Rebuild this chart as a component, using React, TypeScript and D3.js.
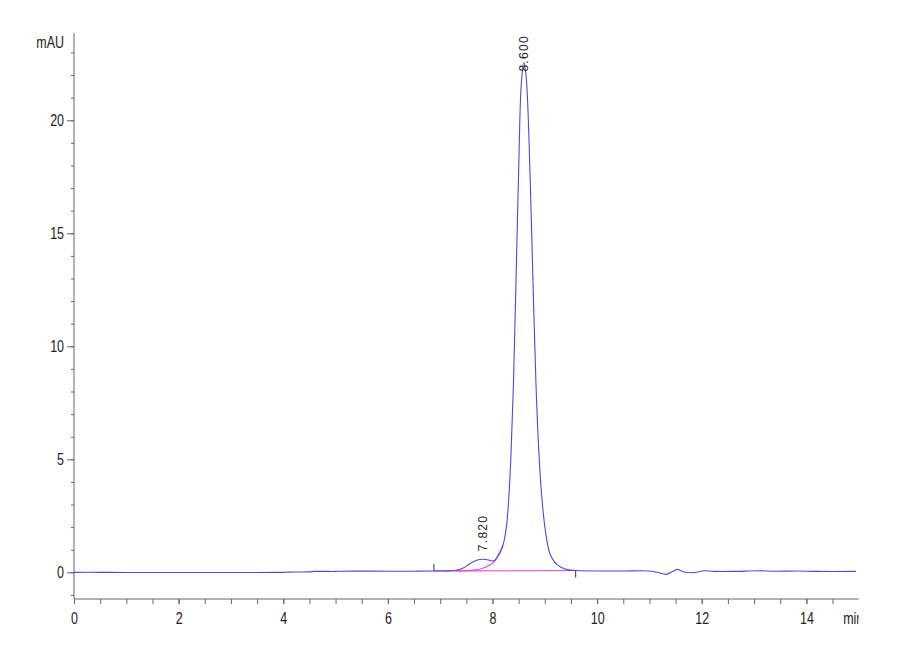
import { useEffect, useRef } from "react";
import * as d3 from "d3";

// Detector trace: [time (min), signal (mAU)]
const traceTime = [
  0, 0.5, 1, 2, 3, 4, 4.1, 4.5, 4.6, 5, 5.1, 6, 6.5, 6.9, 7.1, 7.3, 7.45, 7.55,
  7.7, 7.8, 7.9, 8.0, 8.05, 8.1, 8.15, 8.2, 8.26, 8.3, 8.35, 8.4, 8.45, 8.5,
  8.55, 8.6, 8.64, 8.67, 8.73, 8.78, 8.83, 8.88, 8.94, 9.01, 9.1, 9.2, 9.3,
  9.45, 9.6, 10, 10.5, 11, 11.15, 11.32, 11.45, 11.54, 11.62, 11.7, 11.86,
  12.05, 12.24, 12.6, 13.07, 13.4, 13.83, 14.2, 14.95,
];
const traceSignal = [
  0, 0, -0.01, -0.01, -0.01, 0, 0.01, 0.02, 0.04, 0.04, 0.05, 0.05, 0.05, 0.06,
  0.06, 0.09, 0.2, 0.36, 0.53, 0.58, 0.56, 0.5, 0.55, 0.72, 0.93, 1.2, 1.9,
  2.9, 5.0, 8.3, 13.0, 17.8, 21.6, 22.55, 22.0, 20.9, 16.6, 12.3, 8.4, 5.6,
  3.4, 1.85, 0.8, 0.42, 0.24, 0.11, 0.08, 0.06, 0.06, 0.06, 0.0, -0.09, 0.05,
  0.13, 0.05, 0.0, -0.01, 0.07, 0.04, 0.04, 0.07, 0.05, 0.06, 0.04, 0.04,
];

// Integration: skim of the main peak under the shoulder, and the baseline
const skimTime = [7.3, 7.6, 7.8, 8.0, 8.07, 8.14, 8.2];
const skimSignal = [0.06, 0.09, 0.17, 0.4, 0.58, 0.84, 1.2];
const baseTime = [6.88, 9.59];
const baseSignal = [0.06, 0.08];

// Peak labels
const peakTime = [7.82, 8.6];
const peakHeight = [0.58, 22.55];
const peakLabel = ["7.820", "8.600"];
const peakOffset = [-8, 9];

const xMajor = [0, 2, 4, 6, 8, 10, 12, 14];
const yMajor = [0, 5, 10, 15, 20];

const W = 900;
const H = 660;
const tickFont = "'Liberation Sans', Arial, sans-serif";
const squeeze = 0.78; // the original labels use a narrow face

export default function App() {
  const ref = useRef<SVGSVGElement | null>(null);

  useEffect(() => {
    const svg = d3.select(ref.current);
    svg.selectAll("*").remove();

    const x = d3.scaleLinear().domain([0, 15]).range([74, 858.7]);
    const y = d3.scaleLinear().domain([-1.18, 23.86]).range([599, 33]);
    const axisColor = "#666";

    // minor ticks first
    svg
      .append("g")
      .attr("transform", `translate(0,${y(-1.18)})`)
      .call(
        d3
          .axisBottom(x)
          .tickValues(d3.range(0, 14.6, 0.5))
          .tickSize(5)
          .tickFormat(() => "")
      )
      .call((g) => g.select(".domain").remove())
      .call((g) => g.selectAll("line").attr("stroke", axisColor));

    svg
      .append("g")
      .attr("transform", `translate(${x(0)},0)`)
      .call(
        d3
          .axisLeft(y)
          .tickValues(d3.range(-1, 24, 1))
          .tickSize(3)
          .tickFormat(() => "")
      )
      .call((g) => g.select(".domain").remove())
      .call((g) => g.selectAll("line").attr("stroke", axisColor));

    // major axes
    const xAxis = svg
      .append("g")
      .attr("transform", `translate(0,${y(-1.18)})`)
      .call(
        d3
          .axisBottom(x)
          .tickValues(xMajor)
          .tickSize(5)
          .tickPadding(9)
          .tickFormat(d3.format("d"))
      );
    xAxis.select(".domain").attr("stroke", axisColor).attr("d", `M${x(0)},0H${x(15)}`);
    xAxis.selectAll("line").attr("stroke", axisColor);
    xAxis
      .selectAll("text")
      .attr("font-family", tickFont)
      .attr("font-size", 16)
      .attr("fill", "#222")
      .attr("transform", `scale(${squeeze},1)`);

    const yAxis = svg
      .append("g")
      .attr("transform", `translate(${x(0)},0)`)
      .call(
        d3
          .axisLeft(y)
          .tickValues(yMajor)
          .tickSize(7)
          .tickPadding(3)
          .tickFormat(d3.format("d"))
      );
    yAxis.select(".domain").attr("stroke", axisColor).attr("d", `M0,${y(23.86)}V${y(-1.18)}`);
    yAxis.selectAll("line").attr("stroke", axisColor);
    yAxis
      .selectAll("text")
      .attr("font-family", tickFont)
      .attr("font-size", 16)
      .attr("fill", "#222")
      .attr("x", -10 / squeeze)
      .attr("transform", `scale(${squeeze},1)`);

    // axis titles
    svg
      .append("text")
      .attr("transform", `translate(${x(0) - 10},48) scale(${squeeze},1)`)
      .attr("text-anchor", "end")
      .attr("font-family", tickFont)
      .attr("font-size", 16)
      .attr("fill", "#222")
      .text("mAU");

    svg
      .append("clipPath")
      .attr("id", "unit-clip")
      .append("rect")
      .attr("x", 0)
      .attr("y", 0)
      .attr("width", x(15))
      .attr("height", H);
    svg
      .append("g")
      .attr("clip-path", "url(#unit-clip)")
      .append("text")
      .attr("transform", `translate(${x(15) - 15.5},${y(-1.18) + 25}) scale(${squeeze},1)`)
      .attr("font-family", tickFont)
      .attr("font-size", 16)
      .attr("fill", "#222")
      .text("min");

    // integration baseline and skim
    const line = d3.line<number>().curve(d3.curveCatmullRom.alpha(0.5));

    svg
      .append("path")
      .attr("d", line.x((_, i) => x(baseTime[i])).y((d) => y(d))(baseSignal))
      .attr("fill", "none")
      .attr("stroke", "#ee44dd")
      .attr("stroke-width", 1.2);

    svg
      .append("path")
      .attr("d", line.x((_, i) => x(skimTime[i])).y((d) => y(d))(skimSignal))
      .attr("fill", "none")
      .attr("stroke", "#ee44dd")
      .attr("stroke-width", 1.2);

    // baseline start / end markers
    svg
      .append("line")
      .attr("x1", x(baseTime[0]))
      .attr("x2", x(baseTime[0]))
      .attr("y1", y(baseSignal[0]))
      .attr("y2", y(baseSignal[0]) - 7)
      .attr("stroke", "#333");
    svg
      .append("line")
      .attr("x1", x(baseTime[1]))
      .attr("x2", x(baseTime[1]))
      .attr("y1", y(baseSignal[1]))
      .attr("y2", y(baseSignal[1]) + 7)
      .attr("stroke", "#333");

    // detector trace
    svg
      .append("path")
      .attr("d", line.x((_, i) => x(traceTime[i])).y((d) => y(d))(traceSignal))
      .attr("fill", "none")
      .attr("stroke", "#4a4ad8")
      .attr("stroke-width", 1.1);

    // retention time labels
    peakLabel.forEach((label, i) => {
      const px = x(peakTime[i]);
      const py = y(peakHeight[i]) + peakOffset[i];
      svg
        .append("text")
        .attr("transform", `translate(${px + 4},${py}) rotate(-90)`)
        .attr("font-family", "'Liberation Sans', Arial, sans-serif")
        .attr("font-size", 12)
        .attr("letter-spacing", 1.3)
        .attr("fill", "#222")
        .text(label);
    });
  }, []);

  return (
    <svg
      ref={ref}
      width={W}
      height={H}
      style={{ position: "absolute", left: 0, top: 0, background: "#fff" }}
    />
  );
}
